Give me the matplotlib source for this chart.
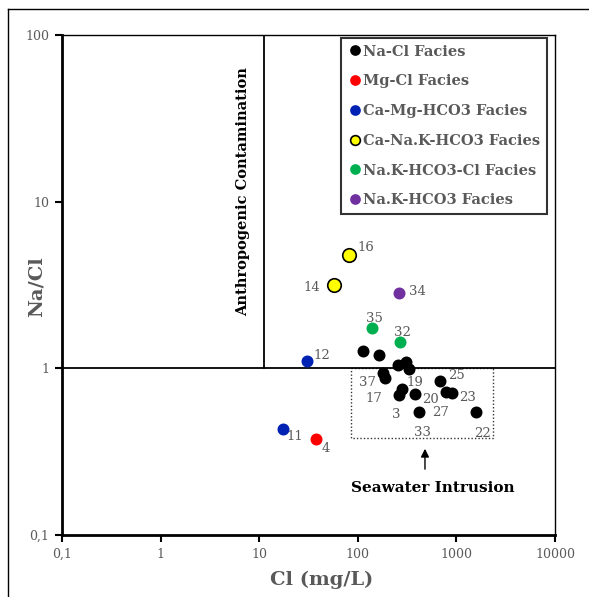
import matplotlib
matplotlib.use("Agg")
import matplotlib.pyplot as plt
from matplotlib.lines import Line2D

# ---------------- data ----------------
nacl_cl = [113, 164, 254, 306, 330, 179, 189, 682, 281, 264, 380, 785, 908, 421, 1570]
nacl_ratio = [1.27, 1.20, 1.05, 1.09, 0.987, 0.94, 0.88, 0.84, 0.75, 0.69, 0.70, 0.72, 0.71, 0.55, 0.545]
nacl_ids = ["", "", "", "", "", "37", "17", "25", "19", "3", "20", "27", "23", "33", "22"]

mgcl_cl = [37.4]
mgcl_ratio = [0.377]
mgcl_ids = ["4"]

camg_cl = [30.3, 17.3]
camg_ratio = [1.10, 0.43]
camg_ids = ["12", "11"]

cana_cl = [81.5, 56.9]
cana_ratio = [4.81, 3.18]
cana_ids = ["16", "14"]

nakcl_cl = [138, 268]
nakcl_ratio = [1.74, 1.43]
nakcl_ids = ["35", "32"]

nak_cl = [264]
nak_ratio = [2.84]
nak_ids = ["34"]

x_ticks = [0.1, 1, 10, 100, 1000, 10000]
x_ticklabels = ["0,1", "1", "10", "100", "1000", "10000"]
y_ticks = [0.1, 1, 10, 100]
y_ticklabels = ["0,1", "1", "10", "100"]

anthro_cl = 11.2
sw_box_x = [85, 2350]
sw_box_y = [0.38, 1.0]
sw_arrow_x = 480
sw_arrow_y = [0.239, 0.342]
sw_text_y = 0.191

# label offsets (points) - styling
label_offsets = {
    "37": (-17, -7), "17": (-14, -15), "25": (6, 4), "19": (3, 5), "3": (-5, -14),
    "20": (5, -4), "27": (-10, -15), "23": (5, -3), "33": (-4, -15), "22": (-1, -15),
    "4": (4, -7), "12": (5, 4), "11": (3, -5), "16": (6, 5), "14": (-22, -2),
    "35": (-4, 7), "32": (-4, 7), "34": (7, 1),
}

serif = ["DejaVu Serif"]
grey = "#595959"

fig = plt.figure(figsize=(5.89, 5.97), dpi=100)
ax = fig.add_axes([62 / 589, 1 - 535 / 597, (555 - 62) / 589, (535 - 35) / 597])
ax.set_xscale("log")
ax.set_yscale("log")
ax.set_xlim(0.1, 10000)
ax.set_ylim(0.1, 100)

groups = [
    (nacl_cl, nacl_ratio, nacl_ids, "black", "black", 55, "Na-Cl Facies"),
    (mgcl_cl, mgcl_ratio, mgcl_ids, "#FF0000", "#FF0000", 55, "Mg-Cl Facies"),
    (camg_cl, camg_ratio, camg_ids, "#0022B4", "#0022B4", 55, "Ca-Mg-HCO3 Facies"),
    (cana_cl, cana_ratio, cana_ids, "#FFFF00", "black", 95, "Ca-Na.K-HCO3 Facies"),
    (nakcl_cl, nakcl_ratio, nakcl_ids, "#00B050", "#00B050", 55, "Na.K-HCO3-Cl Facies"),
    (nak_cl, nak_ratio, nak_ids, "#7030A0", "#7030A0", 55, "Na.K-HCO3 Facies"),
]

# reference lines
ax.axhline(1, color="black", lw=1.3, zorder=2)
ax.plot([anthro_cl, anthro_cl], [1, 100], color="black", lw=1.3, zorder=2)
ax.text(6.85, 10 ** 1.06, "Anthropogenic Contamination", rotation=90,
        ha="center", va="center", fontsize=10.5, fontweight="bold", family=serif)

# seawater box
bx = [sw_box_x[0], sw_box_x[1], sw_box_x[1], sw_box_x[0], sw_box_x[0]]
by = [sw_box_y[1], sw_box_y[1], sw_box_y[0], sw_box_y[0], sw_box_y[1]]
ax.plot(bx, by, color="#333333", lw=1.0, ls=(0, (1, 1.5)), zorder=1)
ax.annotate("", xy=(sw_arrow_x, sw_arrow_y[1]), xytext=(sw_arrow_x, sw_arrow_y[0]),
            arrowprops=dict(arrowstyle="-|>", color="black", lw=1, mutation_scale=12))
ax.text(sw_arrow_x * 1.2, sw_text_y, "Seawater Intrusion", ha="center", va="center",
        fontsize=11, fontweight="bold", family=serif)

handles = []
for xs, ys, ids, fc, ec, s, lab in groups:
    ax.scatter(xs, ys, s=s, c=fc, edgecolors=ec, linewidths=1.2, zorder=4)
    for x, y, t in zip(xs, ys, ids):
        if t:
            ax.annotate(t, (x, y), xytext=label_offsets.get(t, (5, 0)), textcoords="offset points",
                        fontsize=9.5, color=grey, family=serif, ha="left", va="center")
    handles.append(Line2D([], [], marker="o", ls="none", markersize=6.5 if fc != "#FFFF00" else 7,
                          markerfacecolor=fc, markeredgecolor=ec, markeredgewidth=1.2, label=lab))

leg = ax.legend(handles=handles, loc="upper right", bbox_to_anchor=(547 / 589, 1 - 38 / 597),
                bbox_transform=fig.transFigure, frameon=True, fancybox=False, handletextpad=0.1,
                handlelength=1.0, labelspacing=1.08, borderpad=0.45, borderaxespad=0,
                prop=dict(family=serif, size=10.5, weight="bold"))
leg.get_frame().set_edgecolor("black")
leg.get_frame().set_linewidth(1.5)
for t in leg.get_texts():
    t.set_color(grey)

ax.set_xticks(x_ticks)
ax.set_xticklabels(x_ticklabels)
ax.set_yticks(y_ticks)
ax.set_yticklabels(y_ticklabels)
ax.minorticks_off()
ax.tick_params(axis="both", length=5, width=1.5, color="black", labelsize=9,
               labelcolor=grey, direction="out", pad=4)
for lbl in ax.get_xticklabels() + ax.get_yticklabels():
    lbl.set_family(serif)
ax.spines["left"].set_linewidth(2)
ax.spines["bottom"].set_linewidth(2)
ax.spines["top"].set_linewidth(1)
ax.spines["right"].set_linewidth(1)

ax.set_xlabel("Cl (mg/L)", fontsize=14, fontweight="bold", color=grey, family=serif)
ax.set_ylabel("Na/Cl", fontsize=14, fontweight="bold", color=grey, family=serif)
ax.xaxis.set_label_coords((322 - 62) / 493, -(580 - 535) / 500)
ax.yaxis.set_label_coords(-(62 - 37) / 493, (535 - 287) / 500)
ax.xaxis.label.set_va("center")
ax.yaxis.label.set_va("center")

# outer frame
fig.add_artist(Line2D([8 / 589, 8 / 589], [0, 1 - 9 / 597], transform=fig.transFigure, color="black", lw=1))
fig.add_artist(Line2D([8 / 589, 1], [1 - 9 / 597, 1 - 9 / 597], transform=fig.transFigure, color="black", lw=1))

fig.savefig("out.png", dpi=100)
